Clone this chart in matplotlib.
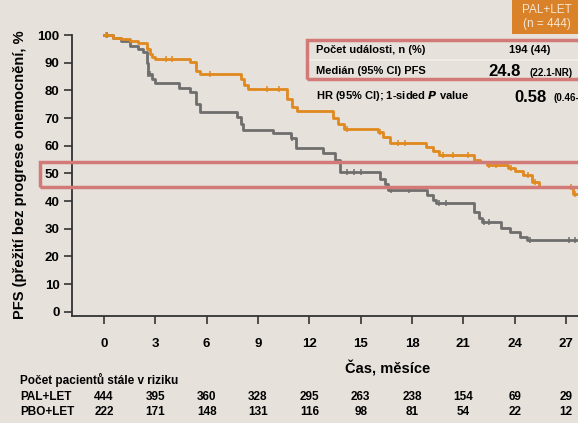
import matplotlib
matplotlib.use('Agg')
import matplotlib.pyplot as plt
from matplotlib.patches import Rectangle

plt.rcParams['font.family'] = ['Liberation Sans', 'DejaVu Sans']
plt.rcParams['font.weight'] = 'bold'

# PAL+LET (oranzova krivka)
pal_t = [0, 0.5, 1.0, 1.5, 2.0, 2.5, 2.7, 2.8, 3.0, 5.0, 5.4, 5.6, 8.0, 8.2, 8.4,
         10.7, 11.0, 11.3, 13.4, 13.7, 14.0, 16.0, 16.3, 16.7, 18.8, 19.2, 19.6,
         21.6, 22.0, 22.4, 23.6, 24.0, 24.5, 25.0, 25.4, 27.4, 27.8]
pal_v = [100, 99, 98.5, 98, 97, 95, 93, 92, 91.5, 90.3, 87, 86, 84, 82, 80.5,
         77, 74, 72.5, 70, 68, 66, 65, 63, 61, 59.5, 58, 56.5,
         55, 54, 53, 52, 51, 49.5, 47, 45, 42.5, 42.5]
pal_cens = [0.1, 3.6, 4.0, 6.2, 9.5, 10.2, 14.2, 16.1, 17.2, 17.6, 19.8, 20.4,
            21.3, 22.5, 22.9, 23.8, 24.8, 25.2, 27.3, 27.5]

# PBO+LET (seda krivka)
pbo_t = [0, 0.5, 1.0, 1.5, 2.0, 2.3, 2.5, 2.6, 2.8, 3.0, 4.4, 5.0, 5.4, 5.6,
         7.8, 8.0, 8.1, 9.9, 10.9, 11.2, 12.8, 13.5, 13.8, 16.1, 16.4, 16.6,
         18.9, 19.2, 19.4, 21.6, 21.9, 22.1, 23.2, 23.7, 24.3, 24.7, 27.8]
pbo_v = [100, 99, 98, 96, 95, 94, 90, 86, 84, 82.5, 81, 79.5, 75, 72,
         70.5, 68, 65.5, 64.5, 62.7, 59, 57.3, 55, 50.5, 48, 46, 44,
         42, 40.5, 39.2, 36, 34, 32.4, 30.2, 28.8, 27, 26, 26]
pbo_cens = [0.2, 2.6, 2.7, 11.0, 14.2, 14.6, 15.0, 16.8, 17.8, 19.6, 20.0,
            22.2, 22.5, 24.9, 27.2, 27.5]

ticks = [0, 3, 6, 9, 12, 15, 18, 21, 24, 27]
risk_pal = [444, 395, 360, 328, 295, 263, 238, 154, 69, 29]
risk_pbo = [222, 171, 148, 131, 116, 98, 81, 54, 22, 12]

bg = '#E6E1DB'
orange = '#E0891F'
gray = '#6E6E6E'
pink = '#D27A78'

W, H = 578, 423
fig = plt.figure(figsize=(W / 100, H / 100), dpi=100, facecolor=bg)
ax = fig.add_axes([72 / W, 1 - 316 / H, 1 - 72 / W, 281 / H])
ax.set_facecolor(bg)


def px(x, y):
    return x / W, 1 - y / H


def value_at(ts, vs, t):
    v = vs[0]
    for ti, vi in zip(ts, vs):
        if ti <= t:
            v = vi
    return v


ax.step(pbo_t, pbo_v, where='post', color=gray, lw=2.0, clip_on=False, zorder=3)
ax.step(pal_t, pal_v, where='post', color=orange, lw=2.0, clip_on=False, zorder=4)
ax.plot(pbo_cens, [value_at(pbo_t, pbo_v, t) for t in pbo_cens], ls='none',
        marker='|', ms=5, mew=1.1, color=gray, clip_on=False, zorder=3)
ax.plot(pal_cens, [value_at(pal_t, pal_v, t) for t in pal_cens], ls='none',
        marker='|', ms=5, mew=1.1, color=orange, clip_on=False, zorder=4)

ax.set_xlim(-1.87, 27.7)
ax.set_ylim(-1.55, 100)
ax.set_xticks(ticks)
ax.set_yticks(range(0, 101, 10))
ax.tick_params(axis='both', labelsize=9.5, width=1.2, length=6, color='#333333')
ax.tick_params(axis='x', pad=10)
ax.tick_params(axis='y', pad=3)
for lab in ax.get_xticklabels() + ax.get_yticklabels():
    lab.set_fontweight('bold')
for s in ['top', 'right']:
    ax.spines[s].set_visible(False)
for s in ['left', 'bottom']:
    ax.spines[s].set_linewidth(1.3)
    ax.spines[s].set_color('#333333')

fig.text(*px(20, 175), 'PFS (přežití bez progrese onemocnění, %', rotation=90,
         ha='center', va='center', fontsize=10.5, fontweight='bold')
fig.text(*px(388, 368), 'Čas, měsíce', ha='center', va='center',
         fontsize=10.5, fontweight='bold')

# tabulka pacientu v riziku
fig.text(*px(20, 380), 'Počet pacientů stále v riziku', ha='left', va='center',
         fontsize=8.5, fontweight='bold')
trans = matplotlib.transforms.blended_transform_factory(ax.transData, fig.transFigure)
for label, row, y in [('PAL+LET', risk_pal, 397), ('PBO+LET', risk_pbo, 412)]:
    fig.text(*px(20, y), label, ha='left', va='center', fontsize=8.5, fontweight='bold')
    for t, n in zip(ticks, row):
        ax.text(t, 1 - y / H, str(n), transform=trans, ha='center', va='center',
                fontsize=8.5, fontweight='bold', clip_on=False)

# ruzovy ramecek kolem 50 %
fig.patches.append(Rectangle(px(40, 187), 560 / W, 25 / H, transform=fig.transFigure,
                             fill=False, ec=pink, lw=2.5, zorder=5))

# tabulka vpravo nahore
fig.patches.append(Rectangle(px(512, 34), 80 / W, 40 / H, transform=fig.transFigure,
                             fc='#D9822A', ec='none', zorder=5))
fig.text(*px(547, 10), 'PAL+LET', ha='center', va='center', fontsize=8.5,
         color='#F6E6D0', fontweight='normal', zorder=8)
fig.text(*px(547, 24), '(n = 444)', ha='center', va='center', fontsize=8.5,
         color='#F6E6D0', fontweight='normal', zorder=8)
fig.patches.append(Rectangle(px(307, 79), 300 / W, 39 / H, transform=fig.transFigure,
                             fill=False, ec=pink, lw=2.5, zorder=6))
fig.add_artist(plt.Line2D([309 / W, 1], [1 - 60 / H, 1 - 60 / H],
                          transform=fig.transFigure, color='#F2EFEB', lw=1.2))
fig.text(*px(316, 50), 'Počet události, n (%)', ha='left', va='center', fontsize=8)
fig.text(*px(530, 50), '194 (44)', ha='center', va='center', fontsize=8)
fig.text(*px(316, 71), 'Medián (95% CI) PFS', ha='left', va='center', fontsize=8)
fig.text(*px(488, 72), '24.8', ha='left', va='center', fontsize=12)
fig.text(*px(530, 73), '(22.1-NR)', ha='left', va='center', fontsize=7)
fig.text(*px(316, 96), 'HR (95% CI); 1-sided $\\bfit{P}$ value', ha='left',
         va='center', fontsize=8)
fig.text(*px(514, 97), '0.58', ha='left', va='center', fontsize=12)
fig.text(*px(553, 98), '(0.46-0.72)', ha='left', va='center', fontsize=7)

fig.savefig('out.png', dpi=100, facecolor=bg)
